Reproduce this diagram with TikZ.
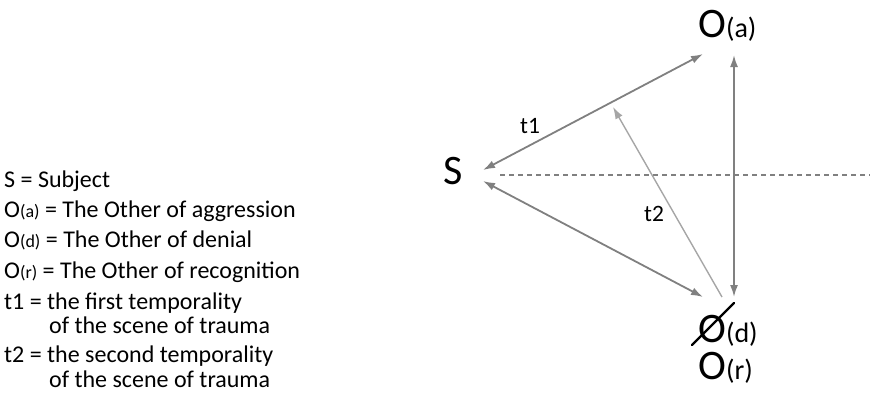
\documentclass[tikz,border=0pt]{standalone}
\usepackage{fontspec}
\setmainfont{Carlito}
\usetikzlibrary{arrows.meta}
\definecolor{linegray}{HTML}{808080}
\definecolor{lightgray}{HTML}{A6A6A6}
% small parenthesised index after a letter
\newcommand\idx[2]{{\fontsize{#1}{#1}\selectfont(#2)}}
\begin{document}
\begin{tikzpicture}[x=1pt,y=-1pt,
  legend/.style={anchor=base west,inner sep=0pt,font=\fontsize{24}{28}\selectfont},
  big/.style={anchor=base west,inner sep=0pt,text height=28pt,text depth=5pt,font=\fontsize{42}{42}\selectfont},
  tlabel/.style={anchor=base west,inner sep=0pt,font=\fontsize{23.5}{28}\selectfont},
  link/.style={draw=linegray,line width=1.8pt,{Latex[length=12pt,width=8pt]}-{Latex[length=12pt,width=8pt]}},
  later/.style={draw=lightgray,line width=1.4pt,-{Latex[length=12pt,width=8pt]}},
  horizon/.style={draw=linegray,line width=1.3pt,dash pattern=on 5pt off 4pt}]
\useasboundingbox (0,0) rectangle (870,394);

% legend
\node[legend] (l1) at (4,187) {S = Subject};
\node[legend] (l2) at (4,217) {O\idx{18}{a} = The Other of aggression};
\node[legend] (l3) at (4,247) {O\idx{18}{d} = The Other of denial};
\node[legend] (l4) at (4,278) {O\idx{18}{r} = The Other of recognition};
\node[legend] (l5) at (4,309) {t1 = the first temporality};
\node[legend] (l6) at (49,333) {of the scene of trauma};
\node[legend] (l7) at (4,362) {t2 = the second temporality};
\node[legend] (l8) at (49,387) {of the scene of trauma};

% positions
\node[big] (S) at (443,184) {S};
\node[big] (Oa) at (698,37) {O\idx{28}{a}};
\node[big] (Od) at (698,342) {O\idx{28}{d}};
\node[big] (Or) at (698,379) {O\idx{28}{r}};
% stroke through the Other of denial
\draw[line width=2.2pt,line cap=round] ([shift={(-6,3)}]Od.base west) -- ([shift={(36,-39)}]Od.base west);

% connector ends
\coordinate (sUp) at (483,170);
\coordinate (sDown) at (483,181);
\coordinate (aLeft) at (703,54);
\coordinate (aDown) at (734,55);
\coordinate (dLeft) at (703,297);
\coordinate (dUp) at (734,297);
\coordinate (dMid) at (722,297);
\coordinate (t2Tip) at (613,107);
\coordinate (hStart) at (500,175);
\coordinate (hEnd) at (870,175);

\draw[horizon] (hStart) -- (hEnd);
\draw[link] (sUp) -- (aLeft);
\draw[link] (sDown) -- (dLeft);
\draw[link] (dUp) -- (aDown);
\draw[later] (dMid) -- (t2Tip);

\node[tlabel] (t1) at (520,133) {t1};
\node[tlabel] (t2) at (644,221) {t2};
\end{tikzpicture}
\end{document}
